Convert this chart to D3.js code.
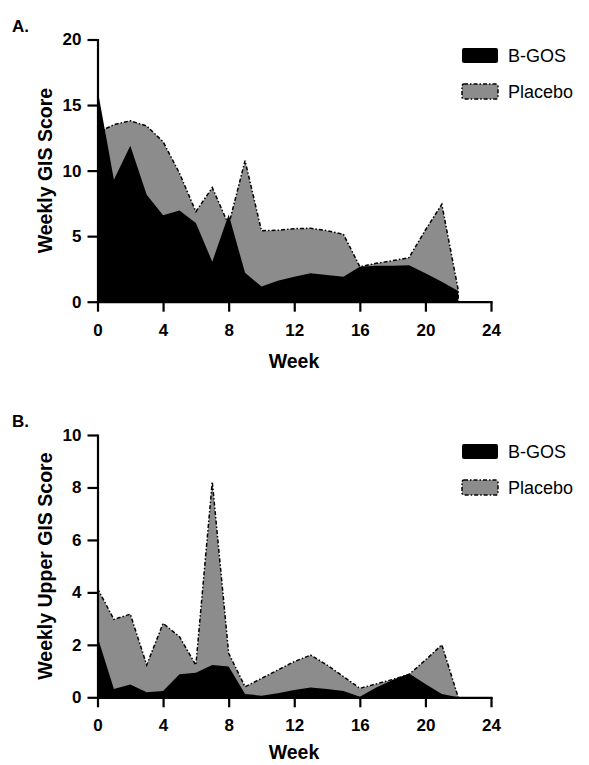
<!DOCTYPE html>
<html>
<head>
<meta charset="utf-8">
<style>
body { margin: 0; background: #fff; }
text { font-family: "Liberation Sans", Arial, sans-serif; fill: #000; }
</style>
</head>
<body>
<script src="https://cdn.jsdelivr.net/npm/d3@7"></script>
<script>
var weeks = d3.range(0, 23);

// panel A: weekly GIS score
var gisBgos = [16.2, 9.3, 11.9, 8.15, 6.6, 6.95, 6.0, 3.05, 6.65, 2.2, 1.15, 1.6, 1.9, 2.17, 2.04, 1.9, 2.67, 2.75, 2.75, 2.78, 2.17, 1.53, 0.82];
var gisPlacebo = [12.9, 13.5, 13.8, 13.4, 12.2, 9.8, 6.87, 8.7, 5.85, 10.76, 5.42, 5.45, 5.57, 5.6, 5.42, 5.14, 2.67, 2.93, 3.13, 3.36, 5.47, 7.43, 0.9];

// panel B: weekly upper GIS score
var upperBgos = [2.31, 0.32, 0.49, 0.19, 0.24, 0.88, 0.94, 1.23, 1.17, 0.13, 0.06, 0.15, 0.28, 0.37, 0.32, 0.24, 0.02, 0.37, 0.66, 0.91, 0.51, 0.13, 0];
var upperPlacebo = [4.15, 2.97, 3.17, 1.23, 2.82, 2.31, 1.23, 8.22, 1.68, 0.4, 0.72, 1.04, 1.36, 1.61, 1.23, 0.79, 0.34, 0.51, 0.68, 0.87, 1.42, 2.0, 0];

var xTicks = [0, 4, 8, 12, 16, 20, 24];
var seriesNames = ["B-GOS", "Placebo"];

var width = 589, height = 765;
var svg = d3.select("body").append("svg")
    .attr("width", width)
    .attr("height", height);

function panel(opts) {
  var g = svg.append("g");
  var x = d3.scaleLinear().domain([0, 24]).range([97.5, 491]);
  var y = d3.scaleLinear().domain([0, opts.ymax]).range([opts.y0, opts.y1]);

  var area = function(vals) {
    return d3.area()
      .x(function(d, i) { return x(weeks[i]); })
      .y0(y(0))
      .y1(function(d) { return y(d); })(vals);
  };
  var line = d3.line()
      .x(function(d, i) { return x(weeks[i]); })
      .y(function(d) { return y(d); });

  // placebo behind, B-GOS on top
  g.append("path")
      .attr("d", area(opts.placebo))
      .attr("fill", "#8c8c8c");
  g.append("path")
      .attr("d", line(opts.placebo) + "L" + x(22) + "," + y(0))
      .attr("fill", "none")
      .attr("stroke", "#000")
      .attr("stroke-width", 1.5)
      .attr("stroke-dasharray", "4,2,1.5,2");
  g.append("path")
      .attr("d", area(opts.bgos))
      .attr("fill", "#000");

  var xAxis = g.append("g")
      .attr("transform", "translate(0," + y(0) + ")")
      .call(d3.axisBottom(x).tickValues(xTicks).tickSize(10).tickPadding(12).tickSizeOuter(0));
  var yAxis = g.append("g")
      .attr("transform", "translate(" + x(0) + ",0)")
      .call(d3.axisLeft(y).tickValues(opts.yTicks).tickSize(10).tickPadding(6).tickSizeOuter(0));
  [xAxis, yAxis].forEach(function(a) {
    a.select(".domain").attr("stroke-width", 2.2).attr("stroke-linecap", "square");
    a.selectAll(".tick line").attr("stroke-width", 2.2);
    a.selectAll(".tick text")
        .style("font-family", "'Liberation Sans', Arial, sans-serif")
        .style("font-size", "17px")
        .style("font-weight", "bold")
        .attr("fill", "#000");
  });

  g.append("text")
      .attr("x", 294)
      .attr("y", Math.min(opts.y0 + 66, 759))
      .attr("text-anchor", "middle")
      .style("font-size", "19.5px")
      .style("font-weight", "bold")
      .text("Week");

  g.append("text")
      .attr("transform", "translate(52," + (opts.y0 + opts.y1) / 2 + ") rotate(-90)")
      .attr("text-anchor", "middle")
      .style("font-size", "19.5px")
      .style("font-weight", "bold")
      .text(opts.ytitle);

  g.append("text")
      .attr("x", 12)
      .attr("y", opts.y1 - 8)
      .style("font-size", "17px")
      .style("font-weight", "bold")
      .text(opts.label);

  // legend
  var lg = g.append("g").attr("transform", "translate(462," + opts.legendY + ")");
  seriesNames.forEach(function(name, i) {
    lg.append("rect")
        .attr("x", 0)
        .attr("y", i * 36)
        .attr("width", 36)
        .attr("height", 15)
        .attr("rx", 2)
        .attr("fill", i == 0 ? "#000" : "#8c8c8c")
        .attr("stroke", "#000")
        .attr("stroke-width", i == 0 ? 0 : 1.5)
        .attr("stroke-dasharray", i == 0 ? null : "4,2,1.5,2");
    lg.append("text")
        .attr("x", 46)
        .attr("y", i * 36 + 14)
        .style("font-size", "18px")
        .text(name);
  });
}

panel({
  label: "A.", ytitle: "Weekly GIS Score", ymax: 20, yTicks: [0, 5, 10, 15, 20],
  y0: 301.7, y1: 39.5, bgos: gisBgos, placebo: gisPlacebo, legendY: 48
});
panel({
  label: "B.", ytitle: "Weekly Upper GIS Score", ymax: 10, yTicks: [0, 2, 4, 6, 8, 10],
  y0: 697.3, y1: 435, bgos: upperBgos, placebo: upperPlacebo, legendY: 444
});
</script>
</body>
</html>
